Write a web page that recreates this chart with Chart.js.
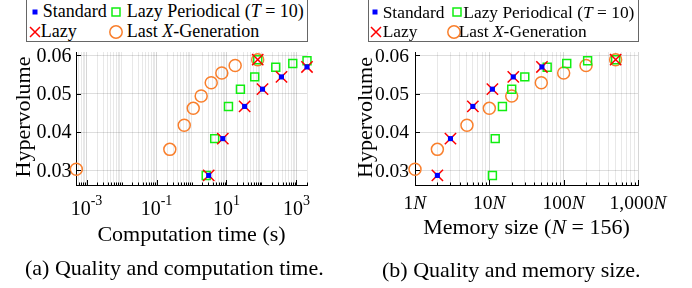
<!DOCTYPE html>
<html>
<head>
<meta charset="utf-8">
<script src="https://cdn.jsdelivr.net/npm/chart.js@4.4.0/dist/chart.umd.min.js"></script>
<style>
    html, body { margin: 0; padding: 0; background: #fff; }
    #fig { position: relative; width: 692px; height: 288px; overflow: hidden; font-family: "Liberation Serif", "Times New Roman", serif; color: #000; }
    .panel { position: absolute; top: 0; width: 346px; height: 288px; }
    .legend { position: absolute; top: -2px; height: 44px; border: 1px solid #666; box-sizing: border-box; background: #fff; }
    .lt { position: absolute; white-space: nowrap; font-size: 18px; line-height: 18px; }
    .lt.small { font-size: 17.4px; line-height: 18px; }
    .mk { position: absolute; width: 16px; height: 16px; overflow: visible; }
    .cap { position: absolute; white-space: nowrap; font-size: 22px; line-height: 22px; }
</style>
</head>
<body>
<div id="fig">
    <div class="panel" style="left:0"><canvas id="timeChart" width="346" height="288"></canvas></div>
    <div class="panel" style="left:346px"><canvas id="memChart" width="346" height="288"></canvas></div>

    <!-- legend (a) -->
    <div class="legend" style="left:26px; width:282px;"></div>
    <svg class="mk" style="left:27px; top:4px" viewBox="0 0 16 16"><rect x="5.5" y="5.5" width="5" height="5" fill="#0000ff"/></svg>
    <div class="lt" style="left:42.7px; top:2.3px">Standard</div>
    <svg class="mk" style="left:108.3px; top:4px" viewBox="0 0 16 16"><rect x="4" y="4" width="8" height="8" fill="none" stroke="#11ee11" stroke-width="1.5"/></svg>
    <div class="lt" style="left:126.7px; top:2.3px">Lazy Periodical (<i>T</i> = 10)</div>
    <svg class="mk" style="left:26.7px; top:23.7px" viewBox="0 0 16 16"><path d="M3 3L13 13M13 3L3 13" stroke="#ff0000" stroke-width="1.5"/></svg>
    <div class="lt" style="left:40.7px; top:21.7px">Lazy</div>
    <svg class="mk" style="left:108px; top:23.5px" viewBox="0 0 16 16"><circle cx="8" cy="8" r="6.2" fill="none" stroke="#f97f2c" stroke-width="1.5"/></svg>
    <div class="lt" style="left:126.7px; top:21.7px">Last <i>X</i>-Generation</div>

    <!-- legend (b) -->
    <div class="legend" style="left:368px; width:271px;"></div>
    <svg class="mk" style="left:367.3px; top:4px" viewBox="0 0 16 16"><rect x="5.5" y="5.5" width="5" height="5" fill="#0000ff"/></svg>
    <div class="lt small" style="left:382.7px; top:2.5px">Standard</div>
    <svg class="mk" style="left:449px; top:4px" viewBox="0 0 16 16"><rect x="4" y="4" width="8" height="8" fill="none" stroke="#11ee11" stroke-width="1.5"/></svg>
    <div class="lt small" style="left:463.3px; top:2.5px">Lazy Periodical (<i>T</i> = 10)</div>
    <svg class="mk" style="left:368px; top:23.7px" viewBox="0 0 16 16"><path d="M3 3L13 13M13 3L3 13" stroke="#ff0000" stroke-width="1.5"/></svg>
    <div class="lt small" style="left:382.7px; top:21.9px">Lazy</div>
    <svg class="mk" style="left:445.7px; top:23.5px" viewBox="0 0 16 16"><circle cx="8" cy="8" r="6.2" fill="none" stroke="#f97f2c" stroke-width="1.5"/></svg>
    <div class="lt small" style="left:458.7px; top:21.9px">Last <i>X</i>-Generation</div>

    <div class="cap" style="left:25px; top:256.6px">(a) Quality and computation time.</div>
    <div class="cap" style="left:382px; top:258.6px">(b) Quality and memory size.</div>
</div>

<script>
// Hypervolume values (shared by both panels)
const hvStandard = [0.0287, 0.0383, 0.0467, 0.0512, 0.0544, 0.0570];
const hvLazy = [0.0287, 0.0383, 0.0467, 0.0512, 0.0544, 0.0570, 0.0589];
const hvPeriodical = [0.0287, 0.0383, 0.0467, 0.0512, 0.0544, 0.0569, 0.0579, 0.0586, 0.0589];
const hvLastX = [0.0303, 0.0355, 0.0418, 0.0462, 0.0494, 0.0529, 0.0554, 0.0574, 0.0589];

// Computation time (s)
const timeStandard = [3.1, 7.85, 33, 107, 373, 2000];
const timeLazy = [3.1, 7.85, 33, 107, 373, 2000, 78];
const timePeriodical = [2.63, 4.6, 11.4, 25, 64, 256, 784, 2000, 78];
const timeLastX = [5.1e-4, 0.24, 0.62, 1.12, 1.89, 3.66, 7.35, 17.7, 78];

// Memory size (multiples of N)
const memStandard = [2, 3, 6, 11, 21, 51];
const memLazy = [2, 3, 6, 11, 21, 51, 500];
const memPeriodical = [11, 12, 15, 20, 30, 60, 110, 210, 500];
const memLastX = [1, 2, 5, 10, 20, 50, 100, 200, 500];

// Axis ticks
const yTicks = [0.03, 0.04, 0.05, 0.06];
const timeTicks = [1e-3, 1e-1, 1e1, 1e3];
const timeTickExps = ['-3', '-1', '1', '3'];
const memTicks = [1, 10, 100, 1000];
const memTickLabels = ['1', '10', '100', '1,000'];

const FONT = '"Liberation Serif", "Times New Roman", serif';

function pts(xs, ys) {
    return xs.map((x, i) => ({ x: x, y: ys[i] }));
}

// every 1..9 x 10^k inside the range, for grid lines and minor ticks
function logTicks(min, max, majors) {
    const out = [];
    for (let e = Math.floor(Math.log10(min)); e <= Math.ceil(Math.log10(max)); e++) {
        for (let m = 1; m <= 9; m++) {
            const v = parseFloat((m * Math.pow(10, e)).toPrecision(6));
            if (v >= min * 0.999 && v <= max * 1.001) {
                out.push({ value: v, major: majors.some(t => Math.abs(t - v) / t < 1e-6) });
            }
        }
    }
    return out;
}

function drawRich(ctx, parts, x, y, size) {
    const fontFor = p => (p.it ? 'italic ' : '') + (p.sup ? size * 0.7 : size) + 'px ' + FONT;
    let w = 0;
    parts.forEach(p => { ctx.font = fontFor(p); w += ctx.measureText(p.t).width; });
    let cx = x - w / 2;
    ctx.textAlign = 'left';
    ctx.textBaseline = 'alphabetic';
    parts.forEach(p => {
        ctx.font = fontFor(p);
        ctx.fillText(p.t, cx, p.sup ? y - size * 0.5 : y);
        cx += ctx.measureText(p.t).width;
    });
}

const decor = {
    id: 'decor',
    afterDraw(chart, args, o) {
        const ctx = chart.ctx;
        const xs = chart.scales.x, ys = chart.scales.y;
        const area = chart.chartArea;
        ctx.save();
        ctx.strokeStyle = '#000';
        ctx.lineWidth = 1;

        // inward tick marks
        xs.ticks.forEach(t => {
            const px = Math.round(xs.getPixelForValue(t.value)) + 0.5;
            const len = t.major ? 5 : 2.5;
            ctx.beginPath();
            ctx.moveTo(px, area.bottom);
            ctx.lineTo(px, area.bottom - len);
            ctx.stroke();
        });
        yTicks.forEach(v => {
            const py = Math.round(ys.getPixelForValue(v)) + 0.5;
            ctx.beginPath();
            ctx.moveTo(area.left, py);
            ctx.lineTo(area.left + 5, py);
            ctx.stroke();
        });

        ctx.fillStyle = '#000';

        // y tick labels
        ctx.font = o.tickSize + 'px ' + FONT;
        ctx.textAlign = 'right';
        ctx.textBaseline = 'middle';
        yTicks.forEach(v => {
            ctx.fillText(v.toFixed(2), area.left - o.yPad, ys.getPixelForValue(v) + 1);
        });

        // x tick labels
        o.xLabels.forEach(l => {
            drawRich(ctx, l.parts, xs.getPixelForValue(l.value), area.bottom + o.xLabelDy, o.tickSize);
        });

        // axis titles
        drawRich(ctx, o.xTitle, (area.left + area.right) / 2, o.xTitleY, 22);
        ctx.save();
        ctx.translate(o.yTitleX, o.yTitleY);
        ctx.rotate(-Math.PI / 2);
        drawRich(ctx, [{ t: 'Hypervolume' }], 0, 0, 22);
        ctx.restore();

        ctx.restore();
    }
};

function makeDatasets(xStd, xLazy, xPer, xLast) {
    return [
        {
            label: 'Standard', data: pts(xStd, hvStandard),
            pointStyle: 'rect', pointRadius: 3.6, pointBorderWidth: 0,
            pointBackgroundColor: '#0000ff', pointBorderColor: '#0000ff'
        },
        {
            label: 'Lazy', data: pts(xLazy, hvLazy),
            pointStyle: 'crossRot', pointRadius: 8, pointBorderWidth: 1.5,
            pointBackgroundColor: 'rgba(0,0,0,0)', pointBorderColor: '#ff0000'
        },
        {
            label: 'Lazy Periodical (T = 10)', data: pts(xPer, hvPeriodical),
            pointStyle: 'rect', pointRadius: 5.6, pointBorderWidth: 1.5,
            pointBackgroundColor: 'rgba(0,0,0,0)', pointBorderColor: '#11ee11'
        },
        {
            label: 'Last X-Generation', data: pts(xLast, hvLastX),
            pointStyle: 'circle', pointRadius: 6, pointBorderWidth: 1.5,
            pointBackgroundColor: 'rgba(0,0,0,0)', pointBorderColor: '#f97f2c'
        }
    ].map(d => Object.assign(d, { showLine: false, clip: false }));
}

function makeChart(id, datasets, xMin, xMax, majors, padding, decorOpts) {
    const gridColor = c => (c.tick && c.tick.major) ? 'rgba(0,0,0,0.16)' : 'rgba(0,0,0,0.09)';
    return new Chart(document.getElementById(id), {
        type: 'scatter',
        data: { datasets: datasets },
        options: {
            responsive: false,
            animation: false,
            events: [],
            devicePixelRatio: 1,
            layout: { padding: padding },
            plugins: { legend: { display: false }, tooltip: { enabled: false }, decor: decorOpts },
            scales: {
                x: {
                    type: 'logarithmic', min: xMin, max: xMax,
                    afterBuildTicks: s => { s.ticks = logTicks(xMin, xMax, majors); },
                    ticks: { display: false },
                    grid: { color: gridColor, lineWidth: 1, drawTicks: false },
                    border: { display: true, color: '#000', width: 1 }
                },
                y: {
                    type: 'linear', min: 0.0262, max: 0.0609,
                    afterBuildTicks: s => { s.ticks = yTicks.map(v => ({ value: v, major: true })); },
                    ticks: { display: false },
                    grid: { color: 'rgba(0,0,0,0.13)', lineWidth: 1, drawTicks: false },
                    border: { display: true, color: '#000', width: 1 }
                }
            }
        },
        plugins: [decor]
    });
}

makeChart('timeChart',
    makeDatasets(timeStandard, timeLazy, timePeriodical, timeLastX),
    5e-4, 2e3, timeTicks,
    { left: 76, right: 39, top: 52, bottom: 103 },
    {
        tickSize: 20, yPad: 4.6, xLabelDy: 30,
        xLabels: timeTicks.map((v, i) => ({ value: v, parts: [{ t: '10' }, { t: timeTickExps[i], sup: true }] })),
        xTitle: [{ t: 'Computation time (s)' }], xTitleY: 240.5,
        yTitleX: 29.5, yTitleY: 117
    });

makeChart('memChart',
    makeDatasets(memStandard, memLazy, memPeriodical, memLastX),
    1, 1000, memTicks,
    { left: 69, right: 54, top: 52, bottom: 103 },
    {
        tickSize: 19.5, yPad: 6, xLabelDy: 24,
        xLabels: memTicks.map((v, i) => ({ value: v, parts: [{ t: memTickLabels[i] }, { t: 'N', it: true }] })),
        xTitle: [{ t: 'Memory size (' }, { t: 'N', it: true }, { t: ' = 156)' }], xTitleY: 234.3,
        yTitleX: 26, yTitleY: 117.5
    });
</script>
</body>
</html>
